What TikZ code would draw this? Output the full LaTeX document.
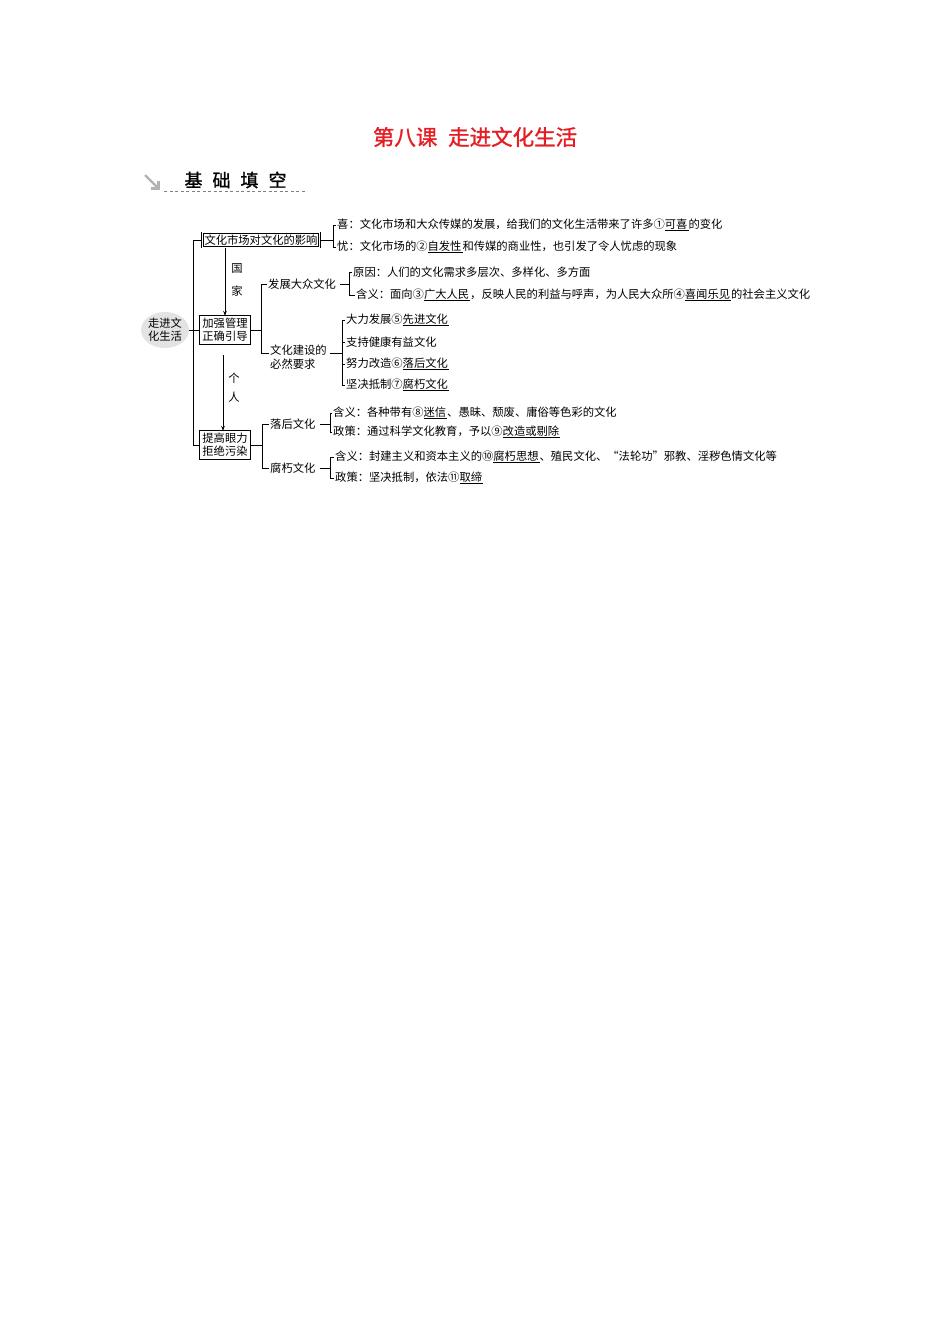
\documentclass[tikz,border=0pt]{standalone}
\usepackage{fontspec}
\newfontfamily\cjk{Noto Sans CJK SC}
\newfontfamily\cjkb[FakeBold=1.2]{Noto Sans CJK SC}
\usetikzlibrary{arrows.meta,calc,shapes.geometric}
\definecolor{titlered}{RGB}{228,30,36}
\newcommand\ans[1]{\underline{#1\kern1pt}}
\begin{document}
\begin{tikzpicture}[x=1pt,y=-1pt,
  txt/.style={font=\cjk\fontsize{11.3}{13.5}\selectfont, inner sep=0pt, outer sep=1.2pt, anchor=west},
  lbl/.style={font=\cjk\fontsize{11.3}{13.5}\selectfont, inner sep=0pt},
  box/.style={draw, double, double distance=1pt, line width=0.55pt, font=\cjk\fontsize{11.3}{13}\selectfont, inner sep=2pt, align=center},
  ln/.style={line width=0.85pt},
  arr/.style={line width=0.85pt, -{Stealth[length=5pt,width=3.5pt]}}]
\useasboundingbox (0,0) rectangle (950,1344);
% title
\node[font=\cjkb\fontsize{21.5}{24}\selectfont, text=titlered] (title) at (475,137) {第八课\hspace{0.5em}走进文化生活};
\node[font=\cjkb\fontsize{18}{20}\selectfont] (head) at (235.5,180) {基\hspace{10pt}础\hspace{10pt}填\hspace{10pt}空};
\draw[gray!60, line width=2.2pt] (145,175) -- (158,188);
\draw[gray!60, line width=2.2pt] (151,188.5) -- (158.5,188.5) -- (158.5,181);
\draw[gray, dashed, dash pattern=on 3pt off 2.5pt, line width=0.6pt] (164,191) -- (305,191);
% root
\node[ellipse, fill=gray!22, minimum width=42, minimum height=36, inner sep=0pt, align=center, font=\cjk\fontsize{11.3}{13}\selectfont] (root) at (165,330) {走进文\\化生活};
% boxes
\node[box] (b1) at (261,240) {文化市场对文化的影响};
\node[box] (b2) at (225,330) {加强管理\\正确引导};
\node[box] (b3) at (225,445) {提高眼力\\拒绝污染};
\coordinate (tr) at (193,330);
\draw[ln] (b1.west) -- (b1.west -| tr) -- (b3.west -| tr) -- (b3.west);
\draw[ln] (root.east) -- (b2.west);
% arrows
\draw[arr] (b1.south -| b2.north) -- (b2.north);
\node[lbl] (g) at (237,268) {国};
\node[lbl] (j) at (237,291) {家};
\coordinate (a2) at (223,355);
\draw[arr] (a2) -- (a2 |- b3.north);
\node[lbl] (ge) at (234,378) {个};
\node[lbl] (ren) at (234,397) {人};
% box1 branch
\node[txt] (x1) at (336,225) {喜：文化市场和大众传媒的发展，给我们的文化生活带来了许多①\ans{可喜}的变化};
\node[txt] (x2) at (336,247) {忧：文化市场的②\ans{自发性}和传媒的商业性，也引发了令人忧虑的现象};
\coordinate (k1) at (333,240);
\draw[ln] (b1.east) -- (k1);
\draw[ln] (x1.west) -| (k1);
\draw[ln] (x2.west) -| (k1);
% box2 branch
\node[txt] (d1) at (267,284) {发展大众文化};
\node[txt, align=left] (d2) at (269,357) {文化建设的\\必然要求};
\coordinate (k2) at (261,330);
\draw[ln] (b2.east) -- (k2);
\draw[ln] (d1.west) -| (k2);
\draw[ln] ($(d2.west)+(0,-4)$) -| (k2);
\node[txt] (f1) at (352,272) {原因：人们的文化需求多层次、多样化、多方面};
\node[txt] (f2) at (355,295) {含义：面向③\ans{广大人民}，反映人民的利益与呼声，为人民大众所④\ans{喜闻乐见}的社会主义文化};
\coordinate (k3) at (349,284);
\draw[ln] ($(d1.east)+(3,0)$) -- (k3);
\draw[ln] (f1.west) -| (k3);
\draw[ln] (f2.west) -| (k3);
\node[txt] (e1) at (345,320) {大力发展⑤\ans{先进文化}};
\node[txt] (e2) at (345,342) {支持健康有益文化};
\node[txt] (e3) at (345,364) {努力改造⑥\ans{落后文化}};
\node[txt] (e4) at (345,385) {坚决抵制⑦\ans{腐朽文化}};
\coordinate (k4) at (342,353);
\draw[ln] ($(d2.east)+(2,-4)$) -- (k4);
\draw[ln] (e1.west) -| (k4);
\draw[ln] (e2.west) -| (k4);
\draw[ln] (e3.west) -| (k4);
\draw[ln] (e4.west) -| (k4);
% box3 branch
\node[txt] (h1) at (269,424) {落后文化};
\node[txt] (h2) at (269,468) {腐朽文化};
\coordinate (k5) at (262,445);
\draw[ln] (b3.east) -- (k5);
\draw[ln] (h1.west) -| (k5);
\draw[ln] (h2.west) -| (k5);
\node[txt] (m1) at (332,413) {含义：各种带有⑧\ans{迷信}、愚昧、颓废、庸俗等色彩的文化};
\node[txt] (m2) at (332,432) {政策：通过科学文化教育，予以⑨\ans{改造或剔除}};
\coordinate (k6) at (330,424);
\draw[ln] ($(h1.east)+(3,0)$) -- (k6);
\draw[ln] (m1.west) -| (k6);
\draw[ln] (m2.west) -| (k6);
\node[txt] (m3) at (334,457) {含义：封建主义和资本主义的⑩\ans{腐朽思想}、殖民文化、“法轮功”邪教、淫秽色情文化等};
\node[txt] (m4) at (334,478) {政策：坚决抵制，依法⑪\ans{取缔}};
\coordinate (k7) at (330,468);
\draw[ln] ($(h2.east)+(3,0)$) -- (k7);
\draw[ln] (m3.west) -| (k7);
\draw[ln] (m4.west) -| (k7);
\end{tikzpicture}
\end{document}
